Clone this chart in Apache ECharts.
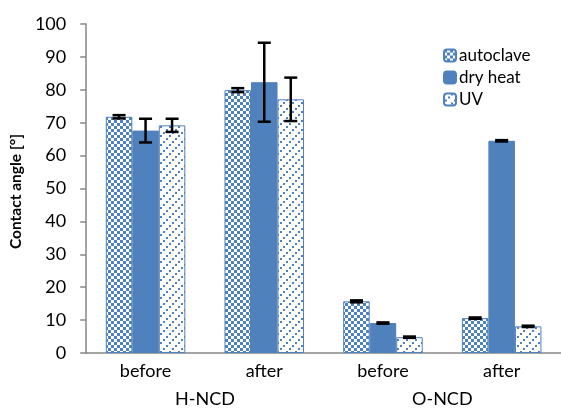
<!DOCTYPE html>
<html>
<head>
<meta charset="utf-8">
<script src="https://cdn.jsdelivr.net/npm/echarts@6/dist/echarts.min.js"></script>
<style>
  html, body { margin: 0; padding: 0; background: #fff; }
  #chart { width: 561px; height: 412px; }
</style>
</head>
<body>
<div id="chart"></div>
<script>
var categories = ['before', 'after', 'before', 'after'];
var groups = ['H-NCD', 'O-NCD'];
var seriesNames = ['autoclave', 'dry heat', 'UV'];

var autoclave = [71.8, 79.9, 15.7, 10.6];
var dryHeat = [67.6, 82.3, 9.1, 64.5];
var uv = [69.2, 77.1, 4.8, 8.1];

var autoclaveErr = [0.5, 0.6, 0.3, 0.2];
var dryHeatErr = [3.6, 12.0, 0.2, 0.2];
var uvErr = [2.0, 6.6, 0.2, 0.2];

var blue = '#4f81bd';
var font = 'Lato, "Open Sans", sans-serif';

// fill patterns
function checker() {
    var c = document.createElement('canvas');
    c.width = 6; c.height = 6;
    var ctx = c.getContext('2d');
    ctx.fillStyle = '#fff';
    ctx.fillRect(0, 0, 6, 6);
    ctx.fillStyle = blue;
    ctx.fillRect(0, 0, 3, 3);
    ctx.fillRect(3, 3, 3, 3);
    return c;
}
function dots() {
    var c = document.createElement('canvas');
    c.width = 9; c.height = 9;
    var ctx = c.getContext('2d');
    ctx.fillStyle = '#fff';
    ctx.fillRect(0, 0, 9, 9);
    ctx.fillStyle = blue;
    ctx.fillRect(7, 0, 2, 2);
    ctx.fillRect(4, 3, 2, 2);
    ctx.fillRect(1, 6, 2, 2);
    return c;
}

var fills = [
    { image: checker(), repeat: 'repeat' },
    blue,
    { image: dots(), repeat: 'repeat' }
];
var values = [autoclave, dryHeat, uv];
var errs = [autoclaveErr, dryHeatErr, uvErr];

var gapFrac = 0.33;

var series = [];
values.forEach(function (vals, si) {
    series.push({
        name: seriesNames[si],
        type: 'bar',
        xAxisIndex: 0,
        barGap: 0,
        barCategoryGap: '33%',
        itemStyle: { color: fills[si], borderColor: blue, borderWidth: 1 },
        data: vals
    });
});

var errData = [];
values.forEach(function (vals, si) {
    vals.forEach(function (v, ci) {
        errData.push([ci, v - errs[si][ci], v + errs[si][ci], si]);
    });
});

series.push({
    type: 'custom',
    xAxisIndex: 0,
    silent: true,
    z: 10,
    encode: { x: 0, y: [1, 2] },
    data: errData,
    renderItem: function (params, api) {
        var ci = api.value(0);
        var si = api.value(3);
        var band = api.size([1, 0])[0];
        var bw = band * (1 - gapFrac) / 3;
        var lo = api.coord([ci, api.value(1)]);
        var hi = api.coord([ci, api.value(2)]);
        var x = lo[0] + (si - 1) * bw;
        var cap = 6.5;
        var st = { stroke: '#000', lineWidth: 2.5 };
        return {
            type: 'group',
            children: [
                { type: 'line', shape: { x1: x, y1: lo[1], x2: x, y2: hi[1] }, style: st },
                { type: 'line', shape: { x1: x - cap, y1: lo[1], x2: x + cap, y2: lo[1] }, style: st },
                { type: 'line', shape: { x1: x - cap, y1: hi[1], x2: x + cap, y2: hi[1] }, style: st }
            ]
        };
    }
});

var chart = echarts.init(document.getElementById('chart'));
chart.setOption({
    animation: false,
    textStyle: { fontFamily: font },
    grid: { left: 85, top: 24, width: 492, height: 329 },
    legend: {
        orient: 'vertical',
        left: 438,
        top: 42,
        itemWidth: 12,
        itemHeight: 12,
        itemGap: 5,
        data: seriesNames,
        textStyle: { fontSize: 17, color: '#000', fontFamily: font, padding: [0, 0, 0, -2] }
    },
    xAxis: [{
        type: 'category',
        data: categories,
        position: 'bottom',
        axisLine: { lineStyle: { color: '#868686', width: 1.5 } },
        axisTick: { alignWithLabel: false, length: 32, lineStyle: { color: '#868686', width: 1.5 } },
        axisLabel: { fontSize: 18, color: '#000', margin: 9, fontFamily: font }
    }, {
        type: 'category',
        data: groups,
        position: 'bottom',
        offset: 0,
        axisLine: { show: false },
        axisTick: { length: 70, lineStyle: { color: '#868686', width: 1.5 } },
        axisLabel: { fontSize: 18, color: '#000', margin: 37, fontFamily: font }
    }],
    yAxis: {
        type: 'value',
        min: 0,
        max: 100,
        interval: 10,
        name: 'Contact angle [°]',
        nameLocation: 'middle',
        nameGap: 55,
        nameRotate: 90,
        nameTextStyle: { fontSize: 15.5, fontWeight: 'bold', color: '#000', fontFamily: font, padding: [0, 6, 0, 0] },
        axisLine: { show: true, lineStyle: { color: '#868686', width: 1.5 } },
        axisTick: { show: true, length: 6, lineStyle: { color: '#868686', width: 1.5 } },
        splitLine: { show: false },
        axisLabel: { fontSize: 18, color: '#000', margin: 20, fontFamily: font }
    },
    series: series
});
</script>
</body>
</html>
